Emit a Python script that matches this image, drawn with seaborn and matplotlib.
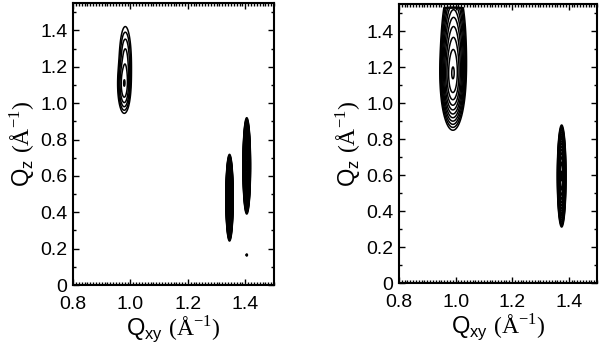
import numpy as np
import matplotlib
matplotlib.use("Agg")
import matplotlib.pyplot as plt
import seaborn as sns
from matplotlib.ticker import MultipleLocator, FuncFormatter

# Peak parameters (left panel)
left_x0 = [0.978, 0.982, 1.345, 1.405, 1.405]
left_z0 = [1.10, 1.22, 0.48, 0.655, 0.165]
left_sx = [0.009, 0.010, 0.0048, 0.005, 0.002]
left_sz = [0.062, 0.095, 0.09, 0.10, 0.004]
left_amp = [1.0, 0.45, 1.0, 1.0, 1.0]
left_group = [0, 0, 1, 2, 3]
left_nlev = [6, 22, 22, 3]
left_lowest = [0.04, 0.03, 0.03, 0.5]

# Right panel
right_x0 = [0.99, 0.993, 1.375]
right_z0 = [1.14, 1.30, 0.595]
right_sx = [0.017, 0.019, 0.0058]
right_sz = [0.11, 0.16, 0.107]
right_amp = [1.0, 0.6, 1.0]
right_group = [0, 0, 1]
right_nlev = [11, 16]
right_lowest = [0.03, 0.03]
right_zcut = 1.53

xticks = [0.8, 1.0, 1.2, 1.4]
yticks = [0, 0.2, 0.4, 0.6, 0.8, 1.0, 1.2, 1.4]

sns.set_theme(style="ticks")
plt.rcParams['font.family'] = ['Liberation Sans', 'DejaVu Sans']
plt.rcParams['mathtext.fontset'] = 'custom'
plt.rcParams['mathtext.rm'] = 'Liberation Serif'
plt.rcParams['mathtext.sf'] = 'Liberation Sans'
plt.rcParams['mathtext.it'] = 'Liberation Sans'

fig = plt.figure(figsize=(6.0, 3.44), dpi=100)
axL = fig.add_axes([0.1217, 0.1715, 0.335, 0.8195])
axR = fig.add_axes([0.665, 0.177, 0.330, 0.811])

gx = np.linspace(0.8, 1.5, 1000)
gz = np.linspace(0.0, 1.55, 1000)
X, Z = np.meshgrid(gx, gz)


def draw(ax, x0, z0, sx, sz, amp, group, nlev, lowest, zcut=None):
    fields = {}
    for i in range(len(x0)):
        f = amp[i] * np.exp(-0.5 * (((X - x0[i]) / sx[i]) ** 2 + ((Z - z0[i]) / sz[i]) ** 2))
        fields[group[i]] = fields.get(group[i], 0) + f
    for g, f in fields.items():
        if zcut is not None:
            f = np.where(Z > zcut, 0.0, f)
        fmax = f.max()
        levels = np.geomspace(lowest[g] * fmax, 0.97 * fmax, nlev[g])
        ax.contour(X, Z, f, levels=levels, colors='black', linewidths=1.1)


draw(axL, left_x0, left_z0, left_sx, left_sz, left_amp, left_group, left_nlev, left_lowest)
draw(axR, right_x0, right_z0, right_sx, right_sz, right_amp, right_group, right_nlev, right_lowest, right_zcut)

fmt = FuncFormatter(lambda v, p: "0" if abs(v) < 1e-9 else f"{v:.1f}")
for ax in (axL, axR):
    ax.set_xlim(0.8, 1.5)
    ax.set_ylim(0, 1.55)
    ax.set_xticks(xticks)
    ax.set_yticks(yticks)
    ax.xaxis.set_major_formatter(fmt)
    ax.yaxis.set_major_formatter(fmt)
    ax.xaxis.set_minor_locator(MultipleLocator(0.01))
    ax.yaxis.set_minor_locator(MultipleLocator(0.1))
    ax.tick_params(which='both', direction='in', top=True, right=True, color='black', width=1.0)
    ax.tick_params(which='major', length=4, labelsize=14, labelcolor='black')
    ax.tick_params(axis='x', which='major', pad=8)
    ax.tick_params(axis='y', which='major', pad=4)
    ax.tick_params(which='minor', length=2)
    for s in ax.spines.values():
        s.set_linewidth(1.5)
        s.set_color('black')
    ax.set_xlabel(r"$\mathsf{Q}_{\mathsf{xy}}\ (\mathrm{\AA}^{-1})$", fontsize=17, color='black', labelpad=0)
    ax.set_ylabel(r"$\mathsf{Q}_{\mathsf{z}}\ (\mathrm{\AA}^{-1})$", fontsize=17, color='black', labelpad=2)
    ax.set_facecolor('white')

fig.savefig("out.png", dpi=100, facecolor='white')
